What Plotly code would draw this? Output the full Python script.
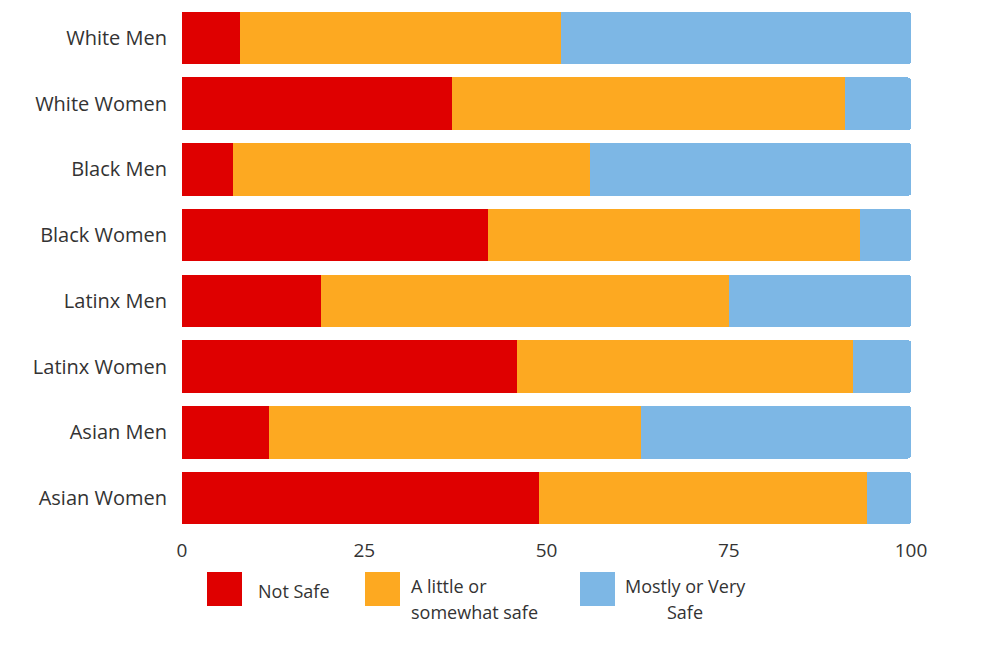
import plotly.graph_objects as go

categories = ["White Men", "White Women", "Black Men", "Black Women",
              "Latinx Men", "Latinx Women", "Asian Men", "Asian Women"]
not_safe = [8, 37, 7, 42, 19, 46, 12, 49]
little_safe = [44, 54, 49, 51, 56, 46, 51, 45]
very_safe = [48, 9, 44, 7, 25, 8, 37, 6]
series_names = ["Not Safe", "A little or somewhat safe", "Mostly or Very Safe"]
legend_lines = [["Not Safe"], ["A little or", "somewhat safe"], ["Mostly or Very", "Safe"]]
colors = ["#DF0000", "#FDA921", "#7DB7E5"]
tick_vals = [0, 25, 50, 75, 100]

fig = go.Figure()
for vals, name, col in zip([not_safe, little_safe, very_safe], series_names, colors):
    fig.add_trace(go.Bar(y=categories, x=vals, orientation="h", name=name,
                         marker=dict(color=col, line=dict(width=0)),
                         showlegend=False))

OFF = 8  # page offset of the figure (body margin)
W, H = 1000, 661
L, R, T, B = 174, 97, 0, 139
pw, ph = W - L - R, H - T - B

def px(x):
    return (x - OFF - L) / pw

def py(y):
    return (H - B - (y - OFF)) / ph

shapes = []
annotations = []
boxes = [(207, 242), (365, 400), (580, 615)]
for (x0, x1), col in zip(boxes, colors):
    shapes.append(dict(type="rect", xref="paper", yref="paper",
                       x0=px(x0), x1=px(x1), y0=py(606), y1=py(572),
                       fillcolor=col, line=dict(width=0)))
font = dict(family="Open Sans, sans-serif", size=18, color="#333333")
# legend text: (x, anchor, line y positions)
text_pos = [(256, "left", [591]), (409, "left", [586, 612]), (685, "center", [586, 612])]
for lines, (x, anchor, ys) in zip(legend_lines, text_pos):
    for line, y in zip(lines, ys):
        annotations.append(dict(xref="paper", yref="paper", x=px(x), y=py(y),
                                text=line, showarrow=False, xanchor=anchor,
                                yanchor="middle", font=font))

fig.update_layout(
    barmode="stack",
    bargap=0.2,
    barcornerradius=3,
    width=W, height=H,
    margin=dict(l=L, r=R, t=T, b=B, autoexpand=False),
    plot_bgcolor="white", paper_bgcolor="white",
    font=dict(family="Open Sans, sans-serif", size=20, color="#333333"),
    shapes=shapes, annotations=annotations,
    xaxis=dict(range=[0, 100], tickvals=tick_vals, showgrid=False, zeroline=False,
               showline=False, ticks="", ticklabelstandoff=7,
               tickfont=dict(size=19, color="#333333")),
    yaxis=dict(categoryorder="array", categoryarray=categories,
               range=[7.487, -0.457],
               showgrid=False, zeroline=False, showline=False, ticks="",
               ticklabelstandoff=14, tickfont=dict(size=20, color="#333333")),
)

fig.write_html("out.html")
